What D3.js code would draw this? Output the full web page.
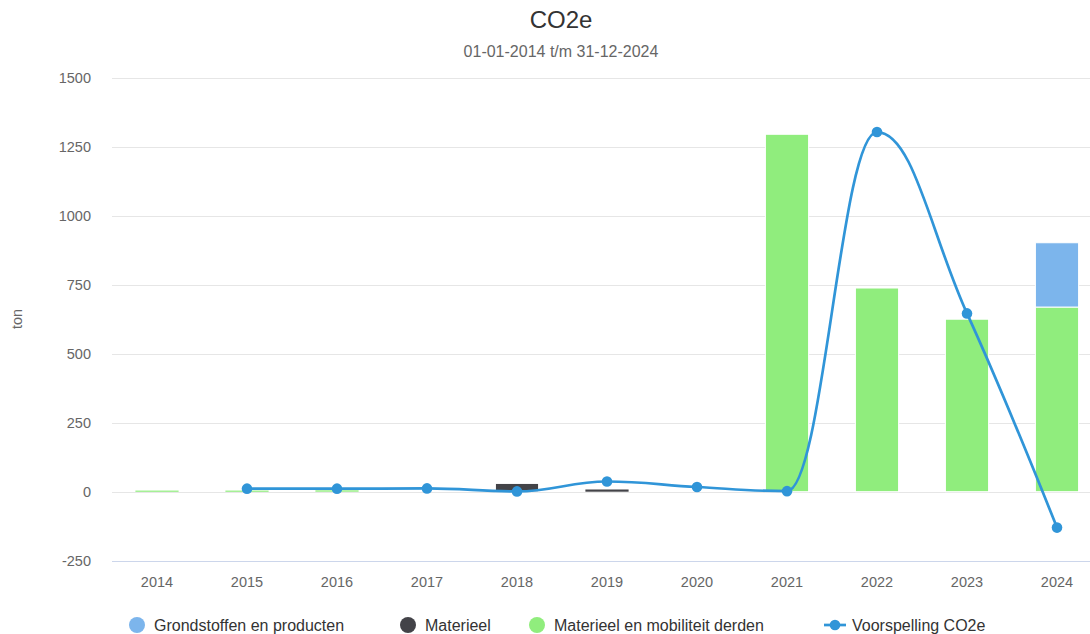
<!DOCTYPE html>
<html><head><meta charset="utf-8">
<script src="https://cdn.jsdelivr.net/npm/d3@7"></script>
<style>
html,body{margin:0;padding:0;background:#fff;}
svg{display:block;font-family:"Liberation Sans",Arial,Helvetica,sans-serif;}
</style></head>
<body><svg id="chart" width="1090" height="634"></svg>
<script>
const years = ["2014","2015","2016","2017","2018","2019","2020","2021","2022","2023","2024"];
const grondstoffen = [0,0,0,0,0,0,0,0,0,0,233];
const materieel = [0,0,0,0,30,8,0,0,0,0,0];
const derden = [4,4,5,0,0,0,0,1295,738,625,669];
const voorspelling = [null,11,11,12,1,37,17,2,1303,646,-130];
const yTicks = [-250,0,250,500,750,1000,1250,1500];

const colors = {grond:"#7cb5ec", mat:"#434348", derden:"#90ed7d", line:"#3095d8"};

const svg = d3.select("#chart");
const W = 1090;
const x = d3.scaleBand().domain(years).range([112,1102]);
const y = d3.scaleLinear().domain([-250,1500]).range([560.7,77.7]);

// Title
svg.append("text").attr("x",561).attr("y",28).attr("text-anchor","middle")
  .attr("font-size",24).attr("fill","#333").text("CO2e");
svg.append("text").attr("x",561).attr("y",57).attr("text-anchor","middle")
  .attr("font-size",16).attr("fill","#666").text("01-01-2014 t/m 31-12-2024");

// grid
svg.append("g").selectAll("line").data(yTicks).join("line")
  .attr("x1",112).attr("x2",W).attr("y1",d=>Math.round(y(d))+0.5).attr("y2",d=>Math.round(y(d))+0.5)
  .attr("stroke",d=>d===-250?"#ccd6eb":"#e6e6e6").attr("stroke-width",1);

// y labels
svg.append("g").selectAll("text").data(yTicks).join("text")
  .attr("x",91).attr("y",d=>y(d)+5.5).attr("text-anchor","end")
  .attr("font-size",14.5).attr("fill","#666").text(d=>d);
svg.append("text").attr("transform","translate(22,319) rotate(-90)").attr("text-anchor","middle")
  .attr("font-size",14.5).attr("fill","#666").text("ton");

// x labels
svg.append("g").selectAll("text").data(years).join("text")
  .attr("x",d=>x(d)+x.bandwidth()/2).attr("y",586.5).attr("text-anchor","middle")
  .attr("font-size",14.5).attr("fill","#666").text(d=>d);

// stacked bars
const rows = years.map((yr,i)=>({year:yr, derden:derden[i], mat:materieel[i], grond:grondstoffen[i]}));
const stack = d3.stack().keys(["derden","mat","grond"])(rows);
const bw = x.bandwidth()*0.48;
svg.append("g").selectAll("g").data(stack).join("g")
  .attr("fill",d=>colors[d.key])
  .selectAll("rect").data(d=>d.filter(p=>p[1]-p[0]>0)).join("rect")
  .attr("x",d=>x(d.data.year)+x.bandwidth()/2-bw/2)
  .attr("width",bw)
  .attr("y",d=>y(d[1]))
  .attr("height",d=>Math.max(1.2,y(d[0])-y(d[1])))
  .attr("stroke",d=>(y(d[0])-y(d[1]))>4?"#fff":"none").attr("stroke-width",1);

// spline (Highcharts-style)
const pts = years.map((yr,i)=>({v:voorspelling[i], px:x(yr)+x.bandwidth()/2})).filter(p=>p.v!==null)
  .map(p=>({x:p.px, y:y(p.v)}));
function splinePath(p){
  const path = d3.path();
  const s=1.5, den=s+1;
  let lastRC = null;
  p.forEach((pt,i)=>{
    if(i===0){ path.moveTo(pt.x,pt.y); return; }
    const last=p[i-1], next=p[i+1];
    let lcx=pt.x, lcy=pt.y, rcx=null, rcy=null;
    if(next){
      lcx=(s*pt.x+last.x)/den; lcy=(s*pt.y+last.y)/den;
      rcx=(s*pt.x+next.x)/den; rcy=(s*pt.y+next.y)/den;
      if(rcx!==lcx){
        const corr=((rcy-lcy)*(rcx-pt.x))/(rcx-lcx)+pt.y-rcy;
        lcy+=corr; rcy+=corr;
        if(lcy>last.y && lcy>pt.y){ lcy=Math.max(last.y,pt.y); rcy=2*pt.y-lcy; }
        else if(lcy<last.y && lcy<pt.y){ lcy=Math.min(last.y,pt.y); rcy=2*pt.y-lcy; }
        if(rcy>next.y && rcy>pt.y){ rcy=Math.max(next.y,pt.y); lcy=2*pt.y-rcy; }
        else if(rcy<next.y && rcy<pt.y){ rcy=Math.min(next.y,pt.y); lcy=2*pt.y-rcy; }
      }
    }
    const c1 = lastRC ? lastRC : [last.x,last.y];
    path.bezierCurveTo(c1[0],c1[1],lcx,lcy,pt.x,pt.y);
    lastRC = rcx!==null ? [rcx,rcy] : null;
  });
  return path.toString();
}
svg.append("path").attr("d",splinePath(pts)).attr("fill","none")
  .attr("stroke",colors.line).attr("stroke-width",2.7);
svg.append("g").selectAll("circle").data(pts).join("circle")
  .attr("cx",d=>d.x).attr("cy",d=>d.y).attr("r",5.3).attr("fill",colors.line);

// legend
const leg = [
  {t:"Grondstoffen en producten", c:colors.grond, cx:137, tx:154, type:"dot"},
  {t:"Materieel", c:colors.mat, cx:408, tx:425, type:"dot"},
  {t:"Materieel en mobiliteit derden", c:colors.derden, cx:537, tx:554, type:"dot"},
  {t:"Voorspelling CO2e", c:colors.line, cx:835, tx:852, type:"line"}
];
const lg = svg.append("g");
leg.forEach(l=>{
  if(l.type==="dot"){
    lg.append("circle").attr("cx",l.cx).attr("cy",625).attr("r",8).attr("fill",l.c);
  } else {
    lg.append("line").attr("x1",l.cx-11).attr("x2",l.cx+11).attr("y1",625).attr("y2",625)
      .attr("stroke",l.c).attr("stroke-width",2.7);
    lg.append("circle").attr("cx",l.cx).attr("cy",625).attr("r",5.3).attr("fill",l.c);
  }
  lg.append("text").attr("x",l.tx).attr("y",631).attr("font-size",16).attr("fill","#333").text(l.t);
});
</script></body></html>
